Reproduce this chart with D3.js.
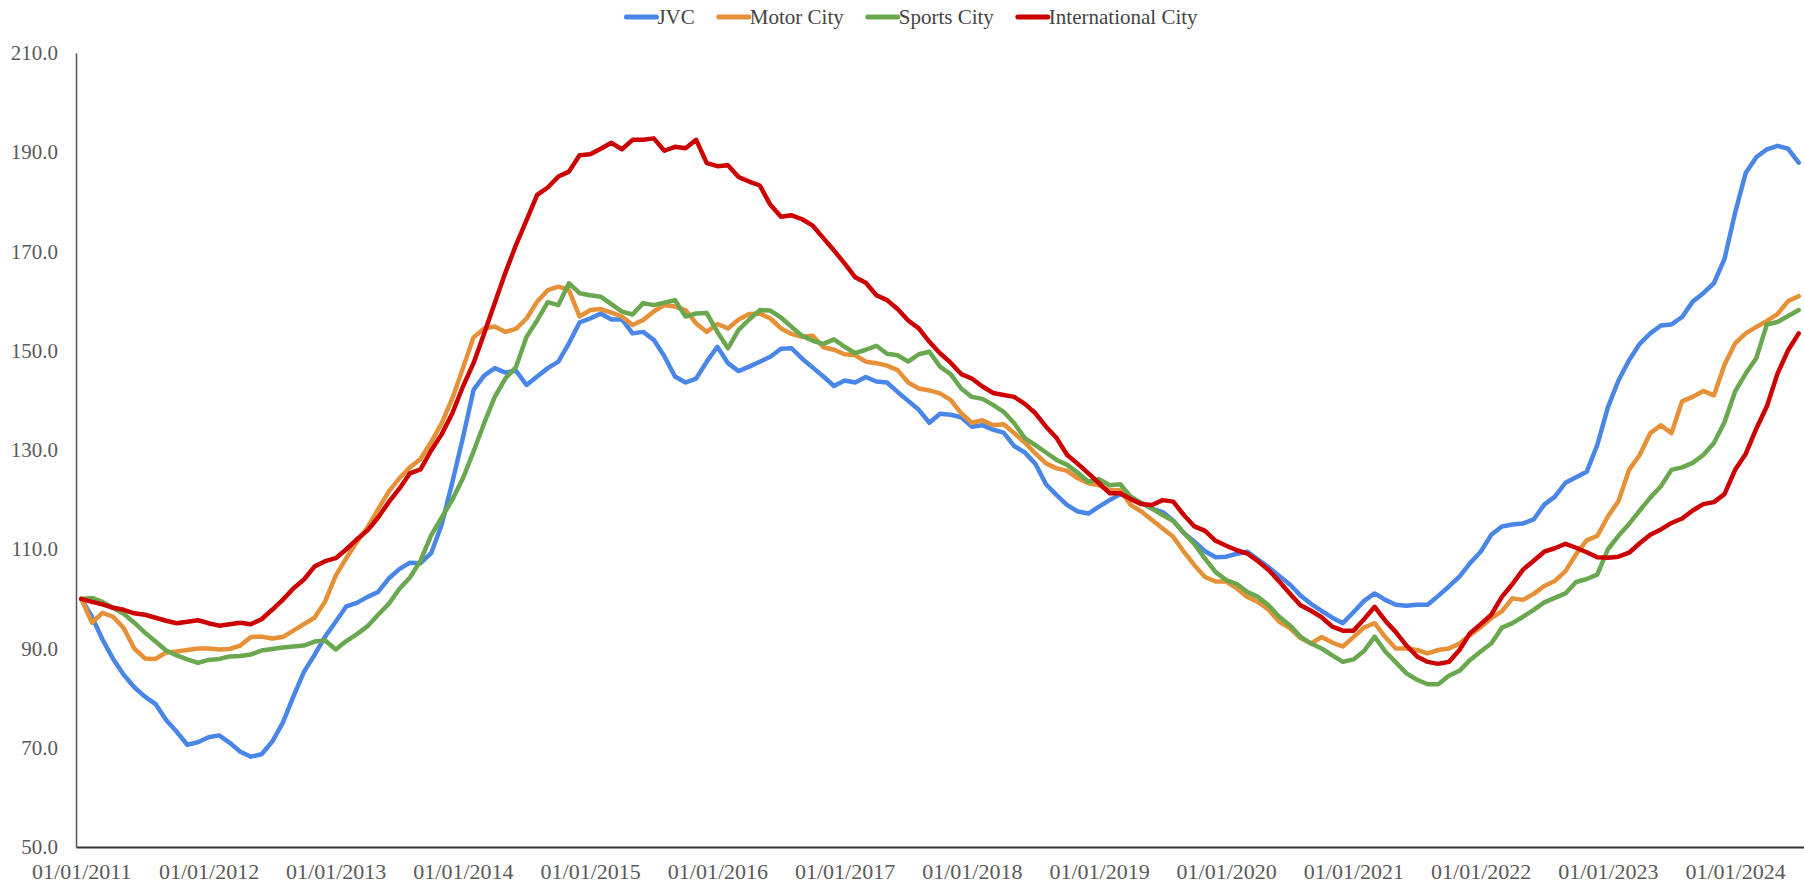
<!DOCTYPE html>
<html>
<head>
<meta charset="utf-8">
<script src="https://cdn.jsdelivr.net/npm/d3@7"></script>
<style>
  html, body { margin: 0; padding: 0; background: #fff; }
  #chart { width: 1804px; height: 884px; }
  text { font-family: "Liberation Serif", "DejaVu Serif", serif; }
</style>
</head>
<body>
<div id="chart"></div>
<script>
// Monthly index values, Jan 2011 .. Jul 2024 (163 months)
const jvc = [
  100.0, 96.4, 91.8, 87.9, 84.7, 82.2, 80.3, 78.8, 75.6, 73.2, 70.6, 71.1,
  72.1, 72.5, 71.0, 69.2, 68.2, 68.7, 71.2, 75.0, 80.3, 85.3, 88.7, 92.4,
  95.4, 98.5, 99.2, 100.4, 101.4, 104.1, 106.0, 107.3, 107.2, 109.2, 115.0, 123.5,
  132.5, 142.1, 145.0, 146.5, 145.6, 146.0, 143.1, 144.8, 146.5, 147.8, 151.5, 155.7,
  156.5, 157.5, 156.3, 156.3, 153.5, 153.8, 152.2, 148.9, 144.8, 143.6, 144.4, 147.8,
  150.8, 147.5, 145.9, 146.8, 147.8, 148.8, 150.4, 150.5, 148.4, 146.6, 144.8, 142.9,
  144.0, 143.6, 144.7, 143.8, 143.6, 141.7, 139.9, 138.1, 135.5, 137.3, 137.1, 136.6,
  134.7, 135.0, 134.1, 133.5, 130.8, 129.5, 127.2, 123.1, 120.9, 118.9, 117.6, 117.2,
  118.6, 119.9, 121.1, 120.3, 119.3, 118.2, 117.5, 115.8, 113.3, 111.5, 109.6, 108.4,
  108.5, 109.1, 109.5, 107.9, 106.4, 104.6, 102.9, 100.7, 99.0, 97.6, 96.2, 95.1,
  97.3, 99.6, 101.1, 99.8, 98.8, 98.6, 98.8, 98.8, 100.6, 102.5, 104.5, 107.2,
  109.5, 112.9, 114.6, 115.0, 115.2, 116.0, 119.0, 120.6, 123.4, 124.5, 125.6, 131.0,
  138.6, 144.0, 148.1, 151.4, 153.5, 155.1, 155.3, 156.8, 159.9, 161.6, 163.6, 168.5,
  177.8, 185.8, 189.0, 190.6, 191.3, 190.7, 187.9
];
const motorCity = [
  100.0, 95.2, 97.2, 96.4, 94.1, 90.0, 88.0, 87.9, 89.2, 89.4, 89.7, 90.0,
  90.0, 89.8, 89.9, 90.6, 92.3, 92.4, 92.0, 92.3, 93.6, 94.9, 96.2, 99.5,
  104.7, 108.2, 111.5, 114.4, 118.1, 121.6, 124.3, 126.5, 128.2, 131.6, 135.4, 140.4,
  146.5, 152.7, 154.5, 154.9, 153.8, 154.4, 156.5, 159.9, 162.2, 162.9, 162.2, 156.9,
  158.2, 158.4, 157.7, 156.9, 155.2, 156.2, 157.9, 159.2, 158.9, 158.2, 155.5, 153.8,
  155.4, 154.5, 156.3, 157.4, 157.5, 156.5, 154.5, 153.4, 152.8, 153.0, 150.7, 150.2,
  149.3, 149.1, 147.8, 147.5, 147.0, 146.1, 143.6, 142.4, 142.0, 141.4, 140.1, 137.4,
  135.5, 136.0, 135.0, 135.2, 133.4, 131.5, 129.3, 127.3, 126.3, 125.8, 124.3, 123.3,
  122.9, 121.9, 121.9, 118.9, 117.6, 115.9, 114.2, 112.5, 109.5, 106.8, 104.4, 103.5,
  103.5, 102.1, 100.4, 99.4, 97.8, 95.4, 94.1, 92.1, 91.0, 92.3, 91.2, 90.4,
  92.3, 94.2, 95.1, 92.3, 90.0, 90.0, 89.7, 89.0, 89.7, 90.0, 91.0, 92.7,
  94.3, 96.1, 97.5, 100.1, 99.8, 101.0, 102.6, 103.6, 105.6, 109.0, 111.8, 112.7,
  116.6, 119.7, 126.0, 129.0, 133.4, 135.0, 133.4, 139.8, 140.7, 141.9, 141.0, 147.2,
  151.5, 153.5, 154.8, 156.0, 157.4, 160.0, 161.0
];
const sportsCity = [
  100.0, 100.2, 99.4, 98.2, 97.0, 95.2, 93.2, 91.4, 89.6, 88.6, 87.8, 87.1,
  87.7, 87.9, 88.4, 88.5, 88.8, 89.6, 89.9, 90.2, 90.4, 90.6, 91.4, 91.6,
  89.8, 91.5, 92.9, 94.5, 96.8, 99.0, 102.0, 104.3, 107.7, 112.8, 116.4, 120.0,
  124.3, 129.7, 135.4, 140.7, 144.4, 146.7, 152.8, 156.1, 159.8, 159.2, 163.6, 161.6,
  161.2, 160.9, 159.4, 157.9, 157.3, 159.6, 159.2, 159.7, 160.2, 156.9, 157.5, 157.6,
  153.8, 150.5, 154.2, 156.3, 158.2, 158.1, 156.7, 154.8, 153.0, 152.0, 151.4, 152.3,
  150.8, 149.5, 150.2, 151.0, 149.4, 149.1, 147.8, 149.3, 149.8, 146.8, 145.3, 142.4,
  140.7, 140.3, 139.1, 137.7, 135.4, 132.4, 131.0, 129.5, 128.0, 127.0, 125.4, 123.6,
  124.1, 122.9, 123.1, 120.6, 119.3, 118.2, 116.9, 115.7, 113.3, 111.0, 108.1, 105.4,
  103.8, 103.0, 101.4, 100.4, 98.7, 96.4, 94.7, 92.4, 91.0, 90.0, 88.6, 87.3,
  87.8, 89.5, 92.4, 89.4, 87.2, 85.0, 83.7, 82.8, 82.8, 84.5, 85.5, 87.7,
  89.4, 91.0, 94.2, 95.1, 96.4, 97.8, 99.3, 100.2, 101.1, 103.4, 104.0, 104.9,
  110.0, 112.7, 115.1, 117.8, 120.4, 122.7, 126.0, 126.5, 127.4, 129.0, 131.4, 135.6,
  141.8, 145.4, 148.5, 155.3, 155.8, 157.0, 158.2
];
const internationalCity = [
  100.0, 99.4, 98.9, 98.2, 97.8, 97.1, 96.8, 96.2, 95.6, 95.1, 95.4, 95.7,
  95.1, 94.6, 94.9, 95.2, 94.9, 95.9, 97.8, 99.8, 102.1, 103.9, 106.5, 107.6,
  108.2, 110.0, 112.0, 113.8, 116.4, 119.5, 122.2, 125.3, 126.1, 129.9, 133.2, 137.4,
  142.8, 147.5, 153.5, 159.6, 165.7, 171.3, 176.3, 181.4, 182.9, 185.1, 186.1, 189.4,
  189.6, 190.7, 191.9, 190.6, 192.5, 192.5, 192.8, 190.3, 191.1, 190.8, 192.5, 187.8,
  187.2, 187.4, 185.0, 184.1, 183.3, 179.4, 177.0, 177.3, 176.5, 175.2, 172.7, 170.2,
  167.6, 164.8, 163.7, 161.2, 160.2, 158.4, 156.1, 154.5, 151.8, 149.5, 147.6, 145.3,
  144.4, 142.8, 141.5, 141.1, 140.7, 139.3, 137.4, 134.7, 132.4, 129.0, 127.2, 125.3,
  123.3, 121.3, 121.3, 120.1, 119.1, 118.9, 119.9, 119.6, 116.9, 114.6, 113.7, 111.7,
  110.7, 109.8, 109.1, 107.6, 105.8, 103.5, 101.1, 98.7, 97.6, 96.3, 94.4, 93.6,
  93.6, 95.9, 98.4, 95.6, 93.3, 90.6, 88.4, 87.3, 86.9, 87.3, 89.7, 93.1,
  94.9, 96.8, 100.4, 103.0, 105.9, 107.7, 109.5, 110.2, 111.1, 110.3, 109.4, 108.4,
  108.3, 108.5, 109.3, 111.2, 112.9, 114.0, 115.3, 116.2, 117.8, 119.1, 119.5, 121.1,
  126.0, 129.2, 134.3, 138.8, 145.4, 150.1, 153.5
];

const seriesNames = ['JVC', 'Motor City', 'Sports City', 'International City'];
const seriesColors = ['#4a86e8', '#e69138', '#6aa84f', '#cc0000'];
const seriesValues = [jvc, motorCity, sportsCity, internationalCity];

// x tick labels sit on every January (month index 0, 12, 24, ...)
const xTickLabels = ['01/01/2011', '01/01/2012', '01/01/2013', '01/01/2014', '01/01/2015',
  '01/01/2016', '01/01/2017', '01/01/2018', '01/01/2019', '01/01/2020', '01/01/2021',
  '01/01/2022', '01/01/2023', '01/01/2024'];
const yTicks = [50, 70, 90, 110, 130, 150, 170, 190, 210];

const W = 1804, H = 884;
const margin = { top: 53, right: 0, bottom: 37, left: 76 };
const nMonths = jvc.length;

const svg = d3.select('#chart').append('svg')
  .attr('width', W)
  .attr('height', H);

const x = d3.scaleLinear()
  .domain([-0.5, nMonths - 0.5])
  .range([margin.left, W - margin.right]);

const y = d3.scaleLinear()
  .domain([50, 210])
  .range([H - margin.bottom, margin.top]);

// Y axis
const yAxis = svg.append('g')
  .attr('transform', `translate(${margin.left},0)`)
  .call(d3.axisLeft(y).tickValues(yTicks).tickFormat(d3.format('.1f')).tickSize(0).tickPadding(18).tickSizeOuter(0));
yAxis.select('.domain').attr('stroke', '#555').attr('stroke-width', 1.5);
yAxis.selectAll('text')
  .style('font-size', '21px')
  .attr('fill', '#5a5a5a');

// X axis
const xAxis = svg.append('g')
  .attr('transform', `translate(0,${H - margin.bottom})`)
  .call(d3.axisBottom(x)
    .tickValues(xTickLabels.map((d, i) => i * 12))
    .tickFormat((d, i) => xTickLabels[i])
    .tickSize(0).tickPadding(16).tickSizeOuter(0));
xAxis.select('.domain').attr('stroke', '#333').attr('stroke-width', 2);
xAxis.selectAll('text')
  .style('font-size', '22px')
  .attr('fill', '#5a5a5a');

// Lines
const line = d3.line()
  .x((d, i) => x(i))
  .y(d => y(d));

seriesValues.forEach((vals, k) => {
  svg.append('path')
    .datum(vals)
    .attr('fill', 'none')
    .attr('stroke', seriesColors[k])
    .attr('stroke-width', 4.5)
    .attr('stroke-linejoin', 'round')
    .attr('stroke-linecap', 'round')
    .attr('d', line);
});

// Legend
const legend = svg.append('g').attr('transform', 'translate(0,17)');
const items = [];
seriesNames.forEach((name, k) => {
  const g = legend.append('g');
  g.append('line')
    .attr('x1', 0).attr('x2', 30)
    .attr('stroke', seriesColors[k])
    .attr('stroke-width', 5)
    .attr('stroke-linecap', 'round');
  const t = g.append('text')
    .attr('x', 31)
    .attr('dy', '0.35em')
    .style('font-size', '21px')
    .attr('fill', '#444')
    .text(name);
  const w = 31 + t.node().getComputedTextLength();
  items.push({ g, w });
});
const gap = 24;
const total = d3.sum(items, d => d.w) + gap * (items.length - 1);
let lx = (W - total) / 2 + 10;
items.forEach(it => {
  it.g.attr('transform', `translate(${lx},0)`);
  lx += it.w + gap;
});
</script>
</body>
</html>
